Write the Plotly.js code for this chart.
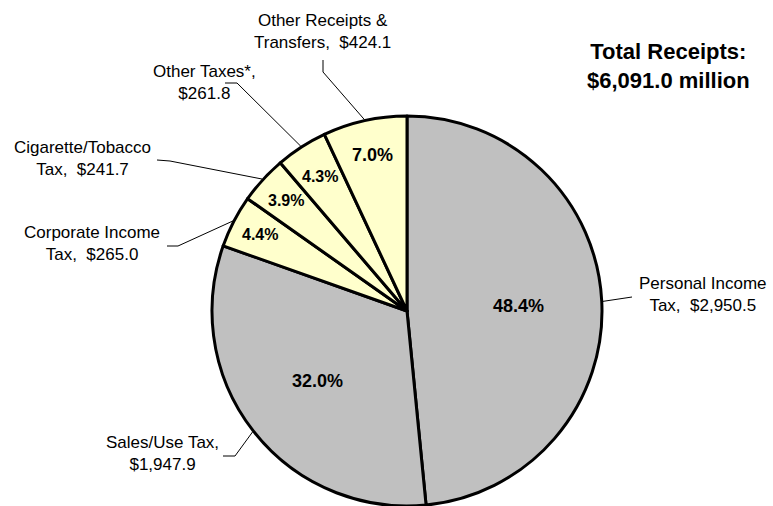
<!DOCTYPE html>
<html>
<head>
<meta charset="utf-8">
<script src="https://cdn.plot.ly/plotly-3.0.1.min.js"></script>
<style>html,body{margin:0;padding:0;background:#fff;}#chart{width:773px;height:506px;}</style>
</head>
<body>
<div id="chart"></div>
<script>
// ---- data ----
var categories = ['Personal Income<br>Tax', 'Sales/Use Tax', 'Corporate Income<br>Tax',
                  'Cigarette/Tobacco<br>Tax', 'Other Taxes*', 'Other Receipts &<br>Transfers'];
var values = [2950.5, 1947.9, 265.0, 241.7, 261.8, 424.1];
var pctLabels = ['48.4%', '32.0%', '4.4%', '3.9%', '4.3%', '7.0%'];
var sliceColors = ['#C0C0C0', '#C0C0C0', '#FFFFCC', '#FFFFCC', '#FFFFCC', '#FFFFCC'];
var totalLabel = 'Total Receipts:<br>$6,091.0 million';

// ---- layout geometry (pixels) ----
var W = 773, H = 506;
var CX = 407, CY = 311, R = 195;
var FONT = 'Liberation Sans, Arial, Helvetica, sans-serif';
// label text centre, leader start/elbow points, percent radius fraction, pct font size
var labelCfg = [
  {tx: 703, ty: 294, pts: [[632, 297]], pr: 0.57, pf: 18},
  {tx: 162, ty: 453, pts: [[223, 456], [235, 456]], pr: 0.58, pf: 18},
  {tx: 92,  ty: 243, pts: [[167, 246], [178, 246]], pr: 0.85, pf: 16},
  {tx: 82,  ty: 158, pts: [[157, 160], [170, 161]], pr: 0.84, pf: 16},
  {tx: 205, ty: 83,  pts: [[225, 83], [237, 83]],   pr: 0.82, pf: 16},
  {tx: 322, ty: 32,  pts: [[323, 60], [323, 72]],   pr: 0.82, pf: 18}
];

function px2x(p) { return p / W; }
function py2y(p) { return 1 - p / H; }
function fmt(v) { return '$' + v.toLocaleString('en-US', {minimumFractionDigits: 1, maximumFractionDigits: 1}); }

var total = values.reduce(function (a, b) { return a + b; }, 0);
var annotations = [], shapes = [];
var cum = 0;
values.forEach(function (v, i) {
  var mid = (cum + v / 2) / total * 2 * Math.PI;
  cum += v;
  var s = Math.sin(mid), c = Math.cos(mid);
  var cfg = labelCfg[i];
  var name = categories[i];
  var txt = name.indexOf('<br>') >= 0 ? name + ',&nbsp; ' + fmt(v) : name + ',<br>' + fmt(v);
  annotations.push({
    xref: 'paper', yref: 'paper', x: px2x(cfg.tx), y: py2y(cfg.ty),
    xanchor: 'center', yanchor: 'middle', showarrow: false, align: 'center',
    text: txt, font: {family: FONT, size: 17, color: '#000'}
  });
  var pr = R * cfg.pr;
  annotations.push({
    xref: 'paper', yref: 'paper', x: px2x(CX + pr * s), y: py2y(CY - pr * c),
    xanchor: 'center', yanchor: 'middle', showarrow: false,
    text: '<b>' + pctLabels[i] + '</b>', font: {family: FONT, size: cfg.pf, color: '#000'}
  });
  var ex = CX + (R + 1) * s, ey = CY - (R + 1) * c;
  var path = 'M' + cfg.pts.map(function (p) { return px2x(p[0]) + ',' + py2y(p[1]); }).join(' L') +
             ' L' + px2x(ex) + ',' + py2y(ey);
  shapes.push({type: 'path', xref: 'paper', yref: 'paper', path: path, line: {color: '#000', width: 1}});
});

annotations.push({
  xref: 'paper', yref: 'paper', x: px2x(668), y: py2y(66), xanchor: 'center', yanchor: 'middle',
  showarrow: false, align: 'center', text: '<b>' + totalLabel + '</b>',
  font: {family: FONT, size: 22, color: '#000'}
});

var trace = {
  type: 'pie',
  labels: categories,
  values: values,
  sort: false,
  direction: 'clockwise',
  rotation: 0,
  textinfo: 'none',
  hoverinfo: 'none',
  marker: {colors: sliceColors, line: {color: '#000', width: 3}},
  domain: {x: [(CX - R) / W, (CX + R) / W], y: [Math.max(0, 1 - (CY + R) / H), 1 - (CY - R) / H]}
};

var layout = {
  width: W, height: H,
  margin: {l: 0, r: 0, t: 0, b: 0},
  paper_bgcolor: '#fff',
  showlegend: false,
  annotations: annotations,
  shapes: shapes,
  font: {family: FONT}
};

Plotly.newPlot('chart', [trace], layout, {displayModeBar: false, staticPlot: true});
</script>
</body>
</html>
